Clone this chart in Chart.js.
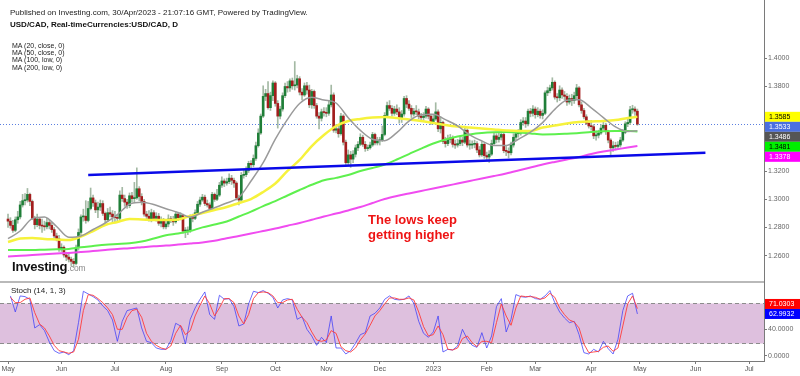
<!DOCTYPE html>
<html>
<head>
<meta charset="utf-8">
<title>USD/CAD daily</title>
<script src="https://cdn.jsdelivr.net/npm/chart.js@4.4.1/dist/chart.umd.min.js"></script>
<style>
  body { margin: 0; background: #fff; }
  #page { position: relative; width: 800px; height: 376px; overflow: hidden; font-family: "Liberation Sans", Arial, sans-serif; }
  canvas { position: absolute; left: 0; }
  #mainChart { top: 0; }
  #stochChart { top: 282px; }
  .sep { position: absolute; left: 0; top: 281px; width: 764px; height: 2px; background: #b9b9b9; z-index: 1; }
  .txt { position: absolute; white-space: nowrap; z-index: 2; color: #222; }
  .ma { font-size: 7px; line-height: 7px; left: 12px; }
</style>
</head>
<body>
<div id="page">
  <canvas id="mainChart" width="800" height="282"></canvas>
  <canvas id="stochChart" width="800" height="94"></canvas>
  <div class="sep"></div>

  <div class="txt" style="left:10px;top:8.6px;font-size:8px;line-height:8px;">Published on Investing.com, 30/Apr/2023 - 21:07:16 GMT, Powered by TradingView.</div>
  <div class="txt" style="left:10px;top:21px;font-size:8px;line-height:8px;font-weight:bold;color:#111;">USD/CAD, Real-timeCurrencies:USD/CAD, D</div>
  <div class="txt ma" style="top:41.6px;">MA (20, close, 0)</div>
  <div class="txt ma" style="top:48.9px;">MA (50, close, 0)</div>
  <div class="txt ma" style="top:56.2px;">MA (100, low, 0)</div>
  <div class="txt ma" style="top:63.6px;">MA (200, low, 0)</div>
  <div class="txt" style="left:368px;top:211.6px;font-size:13px;line-height:15px;font-weight:bold;color:#ee1414;">The lows keep<br>getting higher</div>
  <div class="txt" style="left:12px;top:260.3px;font-size:13px;line-height:13px;font-weight:bold;color:#111;letter-spacing:-0.2px;">Investing<span style="font-size:8.5px;font-weight:normal;color:#8a8a8a;letter-spacing:0;">.com</span></div>
  <div class="txt" style="left:11px;top:287px;font-size:8px;line-height:8px;">Stoch (14, 1, 3)</div>
</div>

<script>
// ---- data ----
// daily candles, index 0 = 2 May 2022 ... 259 = 28 Apr 2023
const firstOpen = 1.2860;
const closes = [
  1.2845,1.2815,1.2780,1.2855,1.2875,1.2960,1.2990,1.2995,1.3035,1.2985,
  1.2865,1.2820,1.2860,1.2815,1.2810,1.2805,1.2835,1.2815,1.2785,1.2740,
  1.2720,1.2650,1.2660,1.2605,1.2590,1.2575,1.2560,1.2545,1.2660,1.2765,
  1.2875,1.2880,1.2850,1.2935,1.3010,1.2975,1.2925,1.2945,1.2970,1.2900,
  1.2855,1.2905,1.2895,1.2875,1.2870,1.2865,1.3030,1.3005,1.2980,1.2955,
  1.3025,1.3005,1.3010,1.3075,1.3020,1.2985,1.2895,1.2880,1.2860,1.2905,
  1.2865,1.2880,1.2830,1.2850,1.2805,1.2825,1.2860,1.2855,1.2840,1.2895,
  1.2870,1.2885,1.2775,1.2775,1.2780,1.2870,1.2865,1.2905,1.2965,1.2995,
  1.3015,1.2970,1.2960,1.2935,1.3035,1.3000,1.3030,1.3100,1.3130,1.3115,
  1.3125,1.3150,1.3135,1.3115,1.3010,1.2995,1.3170,1.3175,1.3205,1.3255,
  1.3245,1.3290,1.3380,1.3470,1.3590,1.3730,1.3750,1.3650,1.3735,1.3825,
  1.3680,1.3590,1.3640,1.3735,1.3800,1.3790,1.3840,1.3805,1.3810,1.3855,
  1.3760,1.3740,1.3805,1.3775,1.3670,1.3765,1.3665,1.3590,1.3575,1.3620,
  1.3615,1.3610,1.3670,1.3740,1.3490,1.3500,1.3465,1.3590,1.3405,1.3260,
  1.3315,1.3285,1.3320,1.3365,1.3390,1.3440,1.3390,1.3360,1.3365,1.3385,
  1.3460,1.3400,1.3415,1.3420,1.3460,1.3595,1.3665,1.3645,1.3610,1.3640,
  1.3620,1.3575,1.3605,1.3715,1.3675,1.3645,1.3605,1.3625,1.3620,1.3590,
  1.3580,1.3590,1.3640,1.3590,1.3550,1.3570,1.3620,1.3500,1.3545,1.3410,
  1.3395,1.3425,1.3435,1.3390,1.3385,1.3395,1.3420,1.3405,1.3490,1.3385,
  1.3385,1.3390,1.3395,1.3350,1.3315,1.3390,1.3310,1.3300,1.3320,1.3395,
  1.3450,1.3425,1.3440,1.3460,1.3345,1.3340,1.3330,1.3385,1.3440,1.3465,
  1.3470,1.3545,1.3555,1.3535,1.3625,1.3610,1.3640,1.3600,1.3625,1.3595,
  1.3610,1.3755,1.3770,1.3790,1.3830,1.3725,1.3720,1.3775,1.3740,1.3730,
  1.3690,1.3715,1.3700,1.3735,1.3790,1.3670,1.3630,1.3585,1.3540,1.3520,
  1.3515,1.3450,1.3455,1.3470,1.3505,1.3525,1.3480,1.3420,1.3365,1.3380,
  1.3375,1.3385,1.3420,1.3475,1.3535,1.3545,1.3635,1.3640,1.3625,1.3533
];
const highs = [
  1.2895,1.2870,1.2850,1.2875,1.2915,1.2985,1.3035,1.3040,1.3077,1.3045,
  1.2995,1.2880,1.2895,1.2870,1.2860,1.2845,1.2865,1.2855,1.2835,1.2800,
  1.2760,1.2745,1.2685,1.2670,1.2625,1.2615,1.2590,1.2580,1.2675,1.2790,
  1.2890,1.2930,1.2990,1.2985,1.3080,1.3030,1.2995,1.2980,1.2995,1.2990,
  1.2910,1.2935,1.2945,1.2920,1.2915,1.2890,1.3060,1.3085,1.3030,1.3000,
  1.3045,1.3050,1.3120,1.3223,1.3090,1.3040,1.3000,1.2915,1.2920,1.2930,
  1.2920,1.2905,1.2900,1.2875,1.2865,1.2855,1.2890,1.2880,1.2880,1.2915,
  1.2905,1.2905,1.2895,1.2800,1.2805,1.2890,1.2895,1.2925,1.2985,1.3015,
  1.3035,1.3030,1.2995,1.2975,1.3050,1.3045,1.3070,1.3120,1.3160,1.3145,
  1.3150,1.3180,1.3170,1.3150,1.3125,1.3030,1.3190,1.3205,1.3230,1.3270,
  1.3275,1.3315,1.3405,1.3500,1.3605,1.3805,1.3780,1.3835,1.3760,1.3840,
  1.3835,1.3700,1.3660,1.3755,1.3825,1.3835,1.3855,1.3860,1.3977,1.3880,
  1.3870,1.3785,1.3825,1.3830,1.3810,1.3780,1.3775,1.3680,1.3615,1.3640,
  1.3650,1.3650,1.3700,1.3810,1.3755,1.3530,1.3520,1.3610,1.3600,1.3420,
  1.3350,1.3340,1.3345,1.3385,1.3410,1.3465,1.3455,1.3410,1.3385,1.3405,
  1.3475,1.3470,1.3440,1.3440,1.3520,1.3615,1.3690,1.3700,1.3665,1.3660,
  1.3670,1.3650,1.3630,1.3730,1.3735,1.3700,1.3665,1.3645,1.3665,1.3640,
  1.3610,1.3615,1.3660,1.3650,1.3605,1.3600,1.3685,1.3635,1.3585,1.3555,
  1.3440,1.3455,1.3460,1.3450,1.3420,1.3425,1.3450,1.3440,1.3520,1.3500,
  1.3420,1.3415,1.3420,1.3410,1.3375,1.3410,1.3400,1.3335,1.3345,1.3420,
  1.3475,1.3465,1.3470,1.3480,1.3470,1.3375,1.3365,1.3405,1.3465,1.3485,
  1.3495,1.3565,1.3580,1.3580,1.3640,1.3645,1.3665,1.3655,1.3650,1.3640,
  1.3635,1.3770,1.3795,1.3810,1.3862,1.3840,1.3750,1.3805,1.3790,1.3765,
  1.3750,1.3740,1.3745,1.3760,1.3815,1.3800,1.3690,1.3645,1.3600,1.3560,
  1.3560,1.3530,1.3485,1.3490,1.3530,1.3555,1.3540,1.3490,1.3430,1.3410,
  1.3405,1.3410,1.3440,1.3495,1.3550,1.3580,1.3660,1.3667,1.3655,1.3640
];
const lows = [
  1.2800,1.2795,1.2765,1.2770,1.2830,1.2860,1.2945,1.2960,1.2980,1.2955,
  1.2855,1.2790,1.2805,1.2790,1.2765,1.2780,1.2790,1.2790,1.2765,1.2725,
  1.2705,1.2630,1.2630,1.2590,1.2565,1.2555,1.2530,1.2518,1.2535,1.2640,
  1.2750,1.2845,1.2830,1.2840,1.2925,1.2950,1.2905,1.2870,1.2920,1.2885,
  1.2835,1.2845,1.2875,1.2840,1.2835,1.2840,1.2845,1.2985,1.2950,1.2935,
  1.2940,1.2980,1.2975,1.3000,1.2990,1.2960,1.2880,1.2860,1.2845,1.2840,
  1.2850,1.2845,1.2815,1.2805,1.2790,1.2790,1.2805,1.2835,1.2815,1.2830,
  1.2850,1.2855,1.2760,1.2728,1.2750,1.2765,1.2840,1.2855,1.2895,1.2950,
  1.2985,1.2955,1.2945,1.2920,1.2925,1.2985,1.2990,1.3020,1.3085,1.3090,
  1.3100,1.3110,1.3105,1.3085,1.2995,1.2960,1.2985,1.3150,1.3160,1.3190,
  1.3220,1.3230,1.3275,1.3370,1.3460,1.3580,1.3700,1.3640,1.3630,1.3700,
  1.3660,1.3505,1.3570,1.3625,1.3720,1.3760,1.3765,1.3780,1.3775,1.3790,
  1.3740,1.3705,1.3730,1.3745,1.3650,1.3645,1.3645,1.3575,1.3500,1.3555,
  1.3590,1.3585,1.3595,1.3655,1.3475,1.3470,1.3440,1.3455,1.3385,1.3240,
  1.3240,1.3226,1.3260,1.3300,1.3345,1.3380,1.3375,1.3340,1.3345,1.3355,
  1.3375,1.3385,1.3385,1.3385,1.3410,1.3450,1.3580,1.3630,1.3590,1.3595,
  1.3600,1.3540,1.3545,1.3590,1.3650,1.3630,1.3580,1.3590,1.3600,1.3570,
  1.3565,1.3560,1.3575,1.3570,1.3530,1.3535,1.3560,1.3480,1.3470,1.3395,
  1.3370,1.3380,1.3400,1.3370,1.3360,1.3370,1.3380,1.3380,1.3395,1.3370,
  1.3355,1.3360,1.3365,1.3330,1.3300,1.3305,1.3290,1.3275,1.3262,1.3310,
  1.3380,1.3400,1.3405,1.3420,1.3330,1.3310,1.3293,1.3315,1.3370,1.3420,
  1.3440,1.3455,1.3525,1.3510,1.3520,1.3585,1.3590,1.3575,1.3585,1.3575,
  1.3570,1.3600,1.3735,1.3755,1.3775,1.3710,1.3690,1.3700,1.3715,1.3705,
  1.3665,1.3675,1.3665,1.3680,1.3710,1.3655,1.3610,1.3570,1.3530,1.3505,
  1.3490,1.3430,1.3420,1.3435,1.3460,1.3490,1.3460,1.3400,1.3310,1.3340,
  1.3350,1.3355,1.3370,1.3410,1.3465,1.3515,1.3530,1.3610,1.3595,1.3525
];

// moving averages, sampled along the curve
const maDays = [0,5,10,15,20,25,30,35,40,45,50,55,60,65,70,75,80,85,90,95,100,105,110,115,120,125,
  130,135,140,145,150,155,160,165,170,175,180,185,190,195,200,205,210,215,220,225,230,235,240,245,250,255,259];
const ma20 = [
  1.2721,1.2775,1.2863,1.2874,1.2807,1.2731,1.2740,1.2786,1.2832,1.2891,
  1.2965,1.2979,1.2963,1.2933,1.2907,1.2874,1.2908,1.2940,1.2974,1.3013,
  1.3130,1.3260,1.3426,1.3567,1.3679,1.3723,1.3704,1.3683,1.3579,1.3489,
  1.3426,1.3416,1.3473,1.3555,1.3599,1.3603,1.3565,1.3521,1.3457,1.3414,
  1.3381,1.3382,1.3426,1.3476,1.3544,1.3638,1.3703,1.3706,1.3649,1.3579,
  1.3513,1.3481,1.3486
];
const ma50 = [
  1.2697,1.2722,1.2726,1.2718,1.2715,1.2711,1.2736,1.2775,1.2818,1.2839,
  1.2860,1.2857,1.2853,1.2853,1.2857,1.2882,1.2903,1.2924,1.2945,1.2974,
  1.3002,1.3052,1.3112,1.3201,1.3279,1.3378,1.3456,1.3520,1.3555,1.3570,
  1.3580,1.3584,1.3577,1.3566,1.3555,1.3541,1.3527,1.3516,1.3509,1.3502,
  1.3495,1.3488,1.3484,1.3484,1.3509,1.3523,1.3538,1.3548,1.3552,1.3555,
  1.3562,1.3577,1.3585
];
const ma100 = [
  1.2640,1.2640,1.2640,1.2643,1.2645,1.2648,1.2660,1.2669,1.2678,1.2683,
  1.2688,1.2701,1.2722,1.2745,1.2757,1.2775,1.2801,1.2821,1.2843,1.2878,
  1.2913,1.2952,1.2987,1.3027,1.3066,1.3103,1.3135,1.3152,1.3172,1.3201,
  1.3222,1.3247,1.3282,1.3321,1.3360,1.3396,1.3424,1.3445,1.3460,1.3470,
  1.3475,1.3477,1.3474,1.3467,1.3460,1.3461,1.3465,1.3470,1.3477,1.3482,
  1.3484,1.3484,1.3481
];
const ma200 = [
  1.2594,1.2599,1.2605,1.2610,1.2615,1.2620,1.2626,1.2633,1.2640,1.2648,
  1.2653,1.2660,1.2667,1.2672,1.2679,1.2686,1.2694,1.2706,1.2724,1.2740,
  1.2757,1.2775,1.2793,1.2813,1.2832,1.2855,1.2878,1.2899,1.2921,1.2945,
  1.2974,1.3002,1.3023,1.3041,1.3059,1.3077,1.3094,1.3112,1.3130,1.3148,
  1.3165,1.3183,1.3204,1.3226,1.3247,1.3265,1.3282,1.3300,1.3321,1.3339,
  1.3353,1.3367,1.3378
];

// hand-drawn support line
const trendDays = [33, 287];
const trendPrices = [1.3172, 1.3330];

// stochastic (14,1,3), one reading every second session, from day 1
const stochK = [
  90,66,90,89,85,42,47,38,21,8, 4,6,2,8,50,97,93,89,84,75,
  68,54,22,52,68,70,72,42,22,20, 12,10,10,23,49,45,18,55,72,85,
  96,62,55,91,85,86,74,45,48,78, 97,95,98,94,88,72,84,86,84,55,
  59,40,30,16,28,20,60,12,12,3, 8,19,32,35,60,64,72,85,90,85,
  84,85,90,79,52,34,28,36,60,6, 10,9,15,40,25,16,13,35,12,30,
  74,86,36,55,92,89,88,90,86,85, 90,98,80,66,57,50,52,32,5,3,
  10,6,22,11,3,25,68,90,94,62.9932
];
const stochD = [
  88,80,80,85,87,65,48,42,30,16, 8,6,4,6,25,68,92,91,86,80,
  72,62,40,40,58,68,70,58,34,22, 16,12,10,15,34,46,32,38,60,76,
  90,78,60,72,86,86,80,60,48,62, 86,95,96,95,90,80,80,84,85,70,
  58,50,36,24,22,24,38,34,14,8, 6,12,24,33,46,60,68,78,87,87,
  85,85,87,84,66,44,30,32,45,32, 10,9,12,26,30,20,14,22,22,20,
  50,78,60,46,72,90,89,89,88,85, 87,94,88,72,62,54,51,42,18,5,
  6,7,13,15,7,12,45,78,90,71.0303
];
const stochBand = [20, 80];

// axis ticks
const priceTicks = [1.26, 1.28, 1.30, 1.32, 1.38, 1.40];
const stochTicks = [0, 40];
const monthDays = [0, 22, 44, 65, 88, 110, 131, 153, 175, 197, 217, 240, 260, 283, 305];
const monthLabels = ['May', 'Jun', 'Jul', 'Aug', 'Sep', 'Oct', 'Nov', 'Dec', '2023', 'Feb', 'Mar', 'Apr', 'May', 'Jun', 'Jul'];

// ---- drawing ----
const FONT = '"Liberation Sans", Arial, sans-serif';
const X_MIN = -3.3, X_MAX = 311.1;
const AXIS_W = 36;
const axisColor = '#7a7a7a';

const opens = closes.map((c, i) => i === 0 ? firstOpen : closes[i - 1]);
const bodyColors = closes.map((c, i) => c >= opens[i] ? '#1f7f38' : '#a31d1d');
const last = arr => arr[arr.length - 1];

function fixWidth(scale) {
    scale.width = AXIS_W;
    scale.paddingTop = 0;
    scale.paddingBottom = 0;
}

// coloured value tags on the price axis, pushed apart so they don't overlap
function tagPlugin(items, pushUp) {
    return {
        id: 'tags',
        afterDraw(chart) {
            const { ctx, chartArea, scales } = chart;
            const h = 10;
            const list = items.map(it => ({ ...it, py: scales.y.getPixelForValue(it.value) }));
            list.sort((a, b) => a.py - b.py);
            if (pushUp) {
                for (let i = list.length - 2; i >= 0; i--) list[i].py = Math.min(list[i].py, list[i + 1].py - h);
            } else {
                for (let i = 1; i < list.length; i++) list[i].py = Math.max(list[i].py, list[i - 1].py + h);
            }
            ctx.save();
            ctx.font = '7px ' + FONT;
            ctx.textBaseline = 'middle';
            list.forEach(it => {
                ctx.fillStyle = it.bg;
                ctx.fillRect(chartArea.right + 1, it.py - h / 2, AXIS_W, h);
                ctx.fillStyle = it.fg;
                ctx.fillText(it.value.toFixed(4), chartArea.right + 5, it.py + 0.5);
            });
            ctx.restore();
        }
    };
}

const lastPriceLine = {
    id: 'lastPrice',
    beforeDatasetsDraw(chart) {
        const { ctx, chartArea, scales } = chart;
        const y = Math.round(scales.y.getPixelForValue(last(closes))) + 0.5;
        ctx.save();
        ctx.strokeStyle = '#5b7fe0';
        ctx.lineWidth = 1;
        ctx.setLineDash([1, 2]);
        ctx.beginPath();
        ctx.moveTo(chartArea.left, y);
        ctx.lineTo(chartArea.right, y);
        ctx.stroke();
        ctx.restore();
    }
};

const stochBackground = {
    id: 'stochBand',
    beforeDatasetsDraw(chart) {
        const { ctx, chartArea, scales } = chart;
        const yHi = Math.round(scales.y.getPixelForValue(stochBand[1])) + 0.5;
        const yLo = Math.round(scales.y.getPixelForValue(stochBand[0])) + 0.5;
        ctx.save();
        ctx.fillStyle = '#dec0de';
        ctx.fillRect(chartArea.left, yHi, chartArea.right - chartArea.left, yLo - yHi);
        ctx.strokeStyle = '#8c8c8c';
        ctx.lineWidth = 1;
        ctx.setLineDash([4, 3]);
        [yHi, yLo].forEach(y => {
            ctx.beginPath();
            ctx.moveTo(chartArea.left, y);
            ctx.lineTo(chartArea.right, y);
            ctx.stroke();
        });
        ctx.restore();
    }
};

function maSet(label, values, color, width, order) {
    return {
        type: 'line',
        label: label,
        data: maDays.map((d, i) => ({ x: d, y: values[i] })),
        borderColor: color,
        borderWidth: width,
        pointRadius: 0,
        cubicInterpolationMode: 'monotone',
        order: order
    };
}

const yAxisCommon = {
    position: 'right',
    grid: { drawOnChartArea: false, tickLength: 3, color: axisColor },
    border: { color: axisColor },
    afterFit: fixWidth
};

new Chart(document.getElementById('mainChart'), {
    type: 'bar',
    data: {
        datasets: [
            {
                type: 'line',
                label: 'Support',
                data: trendDays.map((d, i) => ({ x: d, y: trendPrices[i] })),
                borderColor: '#0a0ae8',
                borderWidth: 2.5,
                pointRadius: 0,
                order: 0
            },
            maSet('MA 20', ma20, '#9a9a9a', 1.5, 1),
            maSet('MA 50', ma50, '#f6f23c', 2.5, 2),
            maSet('MA 100', ma100, '#5ef04e', 2, 3),
            maSet('MA 200', ma200, '#f04cf0', 2, 4),
            {
                label: 'Body',
                data: closes.map((c, i) => ({ x: i, y: [opens[i], c] })),
                backgroundColor: bodyColors,
                barThickness: 2,
                minBarLength: 1,
                grouped: false,
                order: 5
            },
            {
                label: 'Wick',
                data: highs.map((h, i) => ({ x: i, y: [lows[i], h] })),
                backgroundColor: '#a4b9a4',
                barThickness: 1,
                grouped: false,
                order: 6
            }
        ]
    },
    options: {
        responsive: false,
        animation: false,
        events: [],
        layout: { padding: 0 },
        plugins: { legend: { display: false }, tooltip: { enabled: false } },
        scales: {
            x: { type: 'linear', min: X_MIN, max: X_MAX, offset: false, display: false },
            y: {
                ...yAxisCommon,
                min: 1.24135,
                max: 1.44135,
                afterBuildTicks: s => { s.ticks = priceTicks.map(v => ({ value: v })); },
                ticks: {
                    padding: 1,
                    color: '#666',
                    font: { size: 7, family: FONT },
                    callback: v => Number(v).toFixed(4)
                }
            }
        }
    },
    plugins: [
        lastPriceLine,
        tagPlugin([
            { value: last(ma50), bg: '#ffff00', fg: '#000' },
            { value: last(closes), bg: '#4a6fe0', fg: '#fff' },
            { value: last(ma20), bg: '#555555', fg: '#fff' },
            { value: last(ma100), bg: '#00f000', fg: '#000' },
            { value: last(ma200), bg: '#ff00ff', fg: '#fff' }
        ], false)
    ]
});

const stochDays = stochK.map((_, i) => 1 + 2 * i);

new Chart(document.getElementById('stochChart'), {
    type: 'line',
    data: {
        datasets: [
            {
                label: '%D',
                data: stochDays.map((d, i) => ({ x: d, y: stochD[i] })),
                borderColor: 'rgba(255,60,60,0.9)',
                borderWidth: 1,
                pointRadius: 0,
                tension: 0
            },
            {
                label: '%K',
                data: stochDays.map((d, i) => ({ x: d, y: stochK[i] })),
                borderColor: 'rgba(60,60,250,0.75)',
                borderWidth: 1,
                pointRadius: 0,
                tension: 0
            }
        ]
    },
    options: {
        responsive: false,
        animation: false,
        events: [],
        layout: { padding: 0 },
        plugins: { legend: { display: false }, tooltip: { enabled: false } },
        scales: {
            x: {
                type: 'linear',
                min: X_MIN,
                max: X_MAX,
                offset: false,
                afterBuildTicks: s => { s.ticks = monthDays.map(v => ({ value: v })); },
                ticks: {
                    autoSkip: false,
                    maxRotation: 0,
                    padding: 1,
                    color: '#555',
                    font: { size: 7, family: FONT },
                    callback: (v, i) => monthLabels[i]
                },
                grid: { drawOnChartArea: false, tickLength: 3, color: axisColor },
                border: { color: axisColor },
                afterFit: s => { s.height = 15; s.paddingLeft = 0; s.paddingRight = 0; }
            },
            y: {
                ...yAxisCommon,
                min: -7.5,
                max: 110.9,
                afterBuildTicks: s => { s.ticks = stochTicks.map(v => ({ value: v })); },
                ticks: {
                    padding: 1,
                    color: '#666',
                    font: { size: 7, family: FONT },
                    callback: v => Number(v).toFixed(4)
                }
            }
        }
    },
    plugins: [
        stochBackground,
        tagPlugin([
            { value: last(stochD), bg: '#ff0000', fg: '#fff' },
            { value: last(stochK), bg: '#0000ff', fg: '#fff' }
        ], true)
    ]
});
</script>
</body>
</html>
